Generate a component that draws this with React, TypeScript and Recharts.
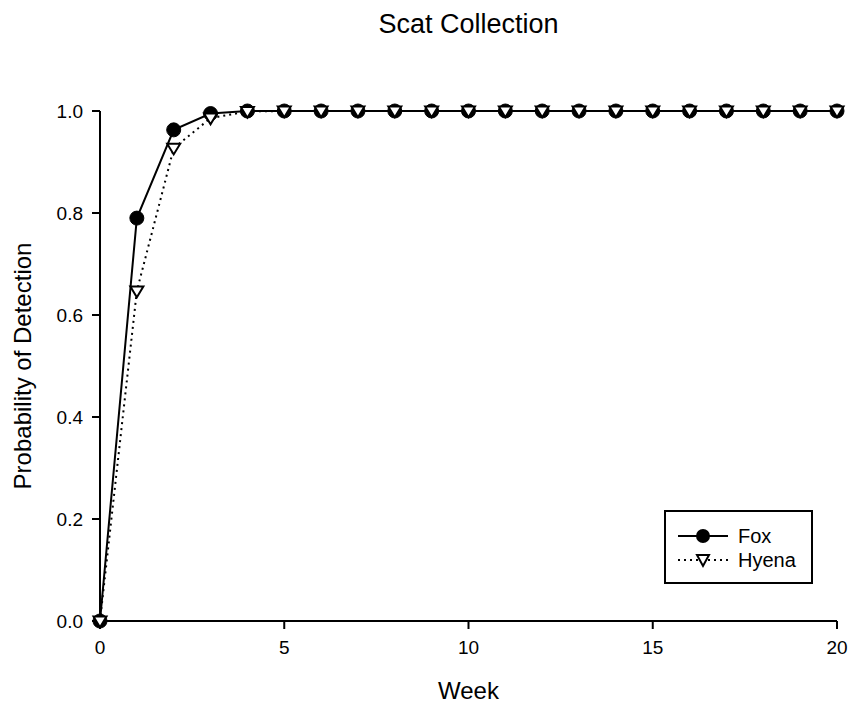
import {
  LineChart,
  Line,
  XAxis,
  YAxis,
} from "recharts";

const weeks = [0, 1, 2, 3, 4, 5, 6, 7, 8, 9, 10, 11, 12, 13, 14, 15, 16, 17, 18, 19, 20];
const fox = [0, 0.79, 0.963, 0.995, 1, 1, 1, 1, 1, 1, 1, 1, 1, 1, 1, 1, 1, 1, 1, 1, 1];
const hyena = [0, 0.647, 0.927, 0.986, 0.999, 1, 1, 1, 1, 1, 1, 1, 1, 1, 1, 1, 1, 1, 1, 1, 1];
const xTicks = [0, 5, 10, 15, 20];
const yTicks = [0, 0.2, 0.4, 0.6, 0.8, 1.0];

const data = weeks.map((w, i) => ({ week: w, fox: fox[i], hyena: hyena[i] }));

const FONT = "Arial, 'Liberation Sans', sans-serif";

function Triangle(props: any) {
  const { cx, cy } = props;
  if (cx == null || cy == null) return null;
  const s = 6.5;
  return (
    <path
      d={`M${cx - s},${cy - s * 0.7} L${cx + s},${cy - s * 0.7} L${cx},${cy + s * 0.95} Z`}
      fill="#fff"
      stroke="#000"
      strokeWidth={2}
    />
  );
}

// legend drawn by hand, sits inside the plot at lower right
function LegendBox() {
  return (
    <div
      style={{
        position: "absolute",
        left: 664,
        top: 510,
        border: "2px solid #000",
        width: 149,
        height: 74,
        boxSizing: "border-box",
        background: "#fff",
        fontFamily: FONT,
        fontSize: 20,
        color: "#000",
        padding: "12px 0 0 12px",
      }}
    >
      <div style={{ display: "flex", alignItems: "center", height: 24 }}>
        <svg width={50} height={20}>
          <line x1={0} y1={10} x2={50} y2={10} stroke="#000" strokeWidth={2} />
          <circle cx={25} cy={10} r={7} fill="#000" />
        </svg>
        <span style={{ marginLeft: 10 }}>Fox</span>
      </div>
      <div style={{ display: "flex", alignItems: "center", height: 24 }}>
        <svg width={50} height={20}>
          <line x1={0} y1={10} x2={50} y2={10} stroke="#000" strokeWidth={2} strokeDasharray="2 4" />
          <path d="M19,5 L31,5 L25,16 Z" fill="#fff" stroke="#000" strokeWidth={2} />
        </svg>
        <span style={{ marginLeft: 10 }}>Hyena</span>
      </div>
    </div>
  );
}

export default function App() {
  return (
    <div style={{ position: "absolute", left: 0, top: 0, width: 852, height: 705, background: "#fff" }}>
      <div
        style={{
          position: "absolute",
          left: 100,
          width: 737,
          top: 9,
          textAlign: "center",
          fontFamily: FONT,
          fontSize: 27,
          color: "#000",
        }}
      >
        Scat Collection
      </div>
      <LineChart
        width={852}
        height={705}
        data={data}
        margin={{ top: 111, right: 15, bottom: 0, left: 40 }}
      >
        <XAxis
          dataKey="week"
          type="number"
          domain={[0, 20]}
          ticks={xTicks}
          interval={0}
          height={84}
          tickSize={8}
          tickMargin={12}
          axisLine={{ stroke: "#000", strokeWidth: 2 }}
          tickLine={{ stroke: "#000", strokeWidth: 2 }}
          tick={{ fill: "#000", fontSize: 19, fontFamily: FONT }}
          label={{ value: "Week", position: "insideBottom", offset: 6, fill: "#000", fontSize: 24, fontFamily: FONT }}
        />
        <YAxis
          type="number"
          domain={[0, 1]}
          ticks={yTicks}
          interval={0}
          width={60}
          tickSize={8}
          tickMargin={9}
          tickFormatter={(v: number) => v.toFixed(1)}
          axisLine={{ stroke: "#000", strokeWidth: 2 }}
          tickLine={{ stroke: "#000", strokeWidth: 2 }}
          tick={{ fill: "#000", fontSize: 19, fontFamily: FONT }}
          label={{
            value: "Probability of Detection",
            angle: -90,
            position: "insideLeft",
            offset: 0,
            dx: -18,
            style: { textAnchor: "middle" },
            fill: "#000",
            fontSize: 24,
            fontFamily: FONT,
          }}
        />
        <Line
          dataKey="fox"
          name="Fox"
          type="linear"
          stroke="#000"
          strokeWidth={2}
          dot={{ r: 7, fill: "#000", stroke: "#000", strokeWidth: 1 }}
          activeDot={false}
          isAnimationActive={false}
        />
        <Line
          dataKey="hyena"
          name="Hyena"
          type="linear"
          stroke="#000"
          strokeWidth={2}
          strokeDasharray="2 4"
          dot={<Triangle />}
          activeDot={false}
          isAnimationActive={false}
        />
      </LineChart>
      <LegendBox />
    </div>
  );
}
